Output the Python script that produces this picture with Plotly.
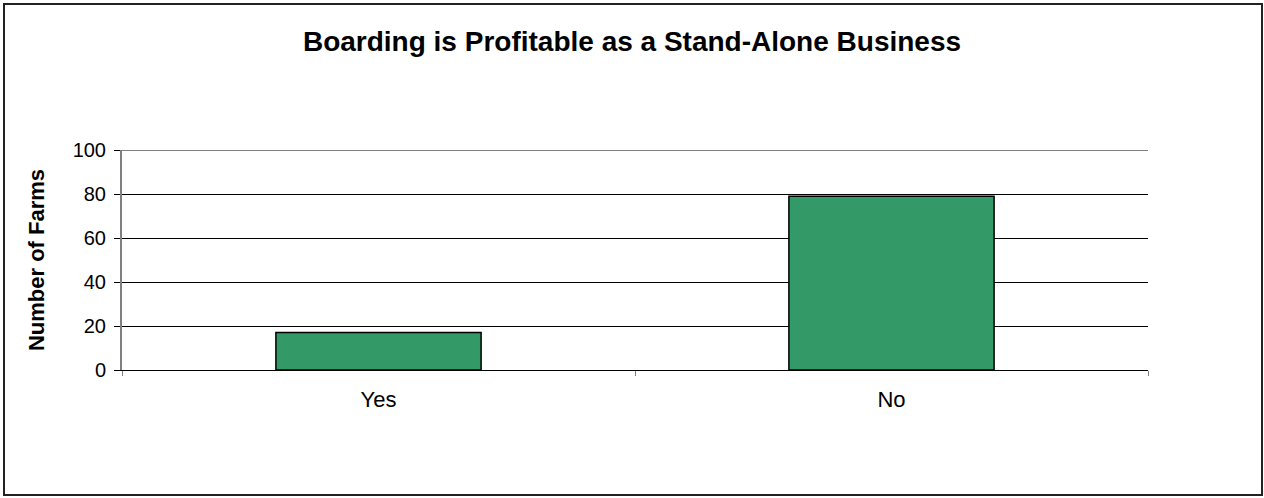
import plotly.graph_objects as go

categories = ["Yes", "No"]
farms = [17, 79]
y_ticks = [0, 20, 40, 60, 80, 100]

W, H = 1264, 498
L, R, T, B = 122, 1264 - 1148, 150, 498 - 370
pw, ph = W - L - R, H - T - B

def px_x(p):
    return (p - L) / pw

def px_y(p):
    return (H - B - p) / ph

fig = go.Figure()
fig.add_trace(go.Bar(
    x=categories, y=farms, width=0.4,
    marker=dict(color="#339966", line=dict(color="black", width=1.5)),
))

fig.update_layout(
    width=W, height=H,
    margin=dict(l=L, r=R, t=T, b=B, autoexpand=False),
    paper_bgcolor="white", plot_bgcolor="white",
    showlegend=False,
    font=dict(family="Liberation Sans, Arial, sans-serif", color="black"),
    title=dict(
        text="<b>Boarding is Profitable as a Stand-Alone Business</b>",
        x=0.5, xanchor="center", y=1 - 41 / H, yanchor="middle",
        font=dict(size=28, color="black"),
    ),
)
fig.update_xaxes(
    type="category", tickson="boundaries", ticks="outside", ticklen=5,
    tickcolor="#808080", showline=True, linecolor="black", linewidth=1,
    showgrid=False, tickfont=dict(size=22), ticklabelstandoff=10,
)
fig.update_yaxes(
    range=[0, 100], tickvals=y_ticks, ticks="outside", ticklen=6,
    tickcolor="black", showline=True, linecolor="#808080", linewidth=2,
    showgrid=True, gridcolor="black", gridwidth=1, zeroline=False,
    tickfont=dict(size=20), ticklabelstandoff=4,
    title=dict(text="<b>Number of Farms</b>", font=dict(size=22), standoff=22),
)
# top gridline at the axis maximum (hidden by plotly at range edge)
fig.add_shape(
    type="line", xref="paper", yref="y", x0=0, x1=1, y0=y_ticks[-1], y1=y_ticks[-1],
    line=dict(color="black", width=1),
)
fig.add_shape(
    type="rect", xref="paper", yref="paper",
    x0=px_x(4), x1=px_x(1262), y0=px_y(495), y1=px_y(4),
    line=dict(color="#222222", width=2), layer="below",
)
fig.write_html(
    "out.html",
    config={"displayModeBar": False},
    post_script="document.body.style.margin='0';document.body.style.overflow='hidden';",
)
